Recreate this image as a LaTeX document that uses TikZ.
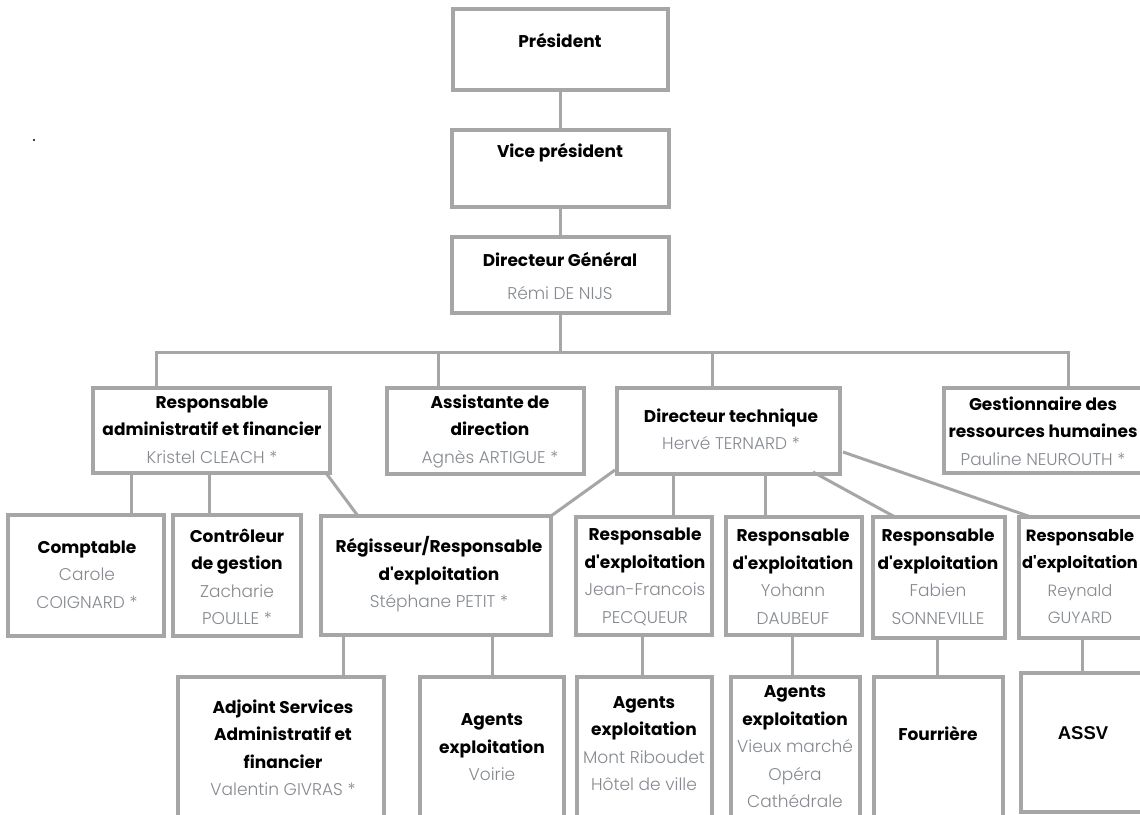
\documentclass[tikz,border=0pt]{standalone}
\usepackage{fontspec}
\setmainfont{Poppins}
\newfontfamily\namefont{Poppins Light}
\newfontfamily\arialfont{Liberation Sans}
\usetikzlibrary{calc}
\definecolor{bord}{HTML}{A6A6A6}
\definecolor{nmgrey}{HTML}{868A90}
\tikzset{
 box/.style={draw=bord, line width=3.5pt, inner sep=0pt, outer sep=0pt, anchor=north west},
 link/.style={draw=bord, line width=3pt},
 lbl/.style={align=center, inner sep=0pt, font=\fontsize{17}{27.5}\selectfont},
}
\newcommand\nm[1]{{\namefont\color{nmgrey}#1}}
\newcommand\ap{\textquotesingle}
\newcommand\orgbox[5]{\node[box, minimum width=#4-#2, minimum height=#5-#3] (#1) at (#2,#3) {};}
\begin{document}
\begin{tikzpicture}[x=1pt,y=-1pt]
\useasboundingbox (0,0) rectangle (1140,814);
\clip (0,0) rectangle (1140,814);
\fill[white] (0,0) rectangle (1140,814);
% boxes
\orgbox{pres}{453}{9}{668}{90}
\orgbox{vp}{452}{130}{669}{207}
\orgbox{dg}{452}{237}{669}{313}
\orgbox{raf}{93}{388}{330}{473}
\orgbox{asst}{387}{388}{584}{474}
\orgbox{dt}{617}{388}{840}{474}
\orgbox{grh}{944}{388}{1146}{473}
\orgbox{comp}{8}{515}{164}{636}
\orgbox{ctrl}{173}{515}{301}{636}
\orgbox{reg}{321}{516}{551}{635}
\orgbox{ra}{576}{517}{712}{635}
\orgbox{rb}{726}{517}{862}{635}
\orgbox{rc}{873}{517}{1005}{638}
\orgbox{rd}{1019}{517}{1146}{638}
\orgbox{adj}{178}{677}{384}{830}
\orgbox{agv}{420}{677}{564}{830}
\orgbox{agmr}{577}{677}{712}{830}
\orgbox{agvm}{731}{677}{860}{830}
\orgbox{four}{874}{677}{1003}{830}
\orgbox{assv}{1021}{673}{1146}{812}
% texts
\node[lbl] (tpres) at (560,40) {\textbf{Président}};
\node[lbl] (tvp) at (560,153) {\textbf{Vice président}};
\node[lbl] (tdg) at (560,276) {\textbf{Directeur Général}\\[5pt]\nm{Rémi DE NIJS}};
\node[lbl] (traf) at (212,429.5) {\textbf{Responsable}\\\textbf{administratif et financier}\\\nm{Kristel CLEACH *}};
\node[lbl] (tasst) at (490,431) {\textbf{Assistante de}\\\textbf{direction}\\\nm{Agnès ARTIGUE *}};
\node[lbl] (tdt) at (731,429.5) {\textbf{Directeur technique}\\\nm{Hervé TERNARD *}};
\node[lbl] (tgrh) at (1043,431) {\textbf{Gestionnaire des}\\\textbf{ressources humaines}\\\nm{Pauline NEUROUTH *}};
\node[lbl] (tcomp) at (87,574.5) {\textbf{Comptable}\\\nm{Carole}\\\nm{COIGNARD *}};
\node[lbl] (tctrl) at (237,576.75) {\textbf{Contrôleur}\\\textbf{de gestion}\\\nm{Zacharie}\\\nm{POULLE *}};
\node[lbl] (treg) at (439,574.5) {\textbf{Régisseur/Responsable}\\\textbf{d\ap exploitation}\\\nm{Stéphane PETIT *}};
\node[lbl] (tra) at (645,576.75) {\textbf{Responsable}\\\textbf{d\ap exploitation}\\\nm{Jean-Francois}\\\nm{PECQUEUR}};
\node[lbl] (trb) at (793,576.75) {\textbf{Responsable}\\\textbf{d\ap exploitation}\\\nm{Yohann}\\\nm{DAUBEUF}};
\node[lbl] (trc) at (938,576.75) {\textbf{Responsable}\\\textbf{d\ap exploitation}\\\nm{Fabien}\\\nm{SONNEVILLE}};
\node[lbl, font=\fontsize{16.3}{27.5}\selectfont] (trd) at (1080,576.75) {\textbf{Responsable}\\\textbf{d\ap exploitation}\\\nm{Reynald}\\\nm{GUYARD}};
\node[lbl] (tadj) at (283,747.5) {\textbf{Adjoint Services}\\\textbf{Administratif et}\\\textbf{financier}\\\nm{Valentin GIVRAS *}};
\node[lbl] (tagv) at (492,747.5) {\textbf{Agents}\\\textbf{exploitation}\\\nm{Voirie}};
\node[lbl] (tagmr) at (644,743.5) {\textbf{Agents}\\\textbf{exploitation}\\\nm{Mont Riboudet}\\\nm{Hôtel de ville}};
\node[lbl] (tagvm) at (795,747) {\textbf{Agents}\\\textbf{exploitation}\\\nm{Vieux marché}\\\nm{Opéra}\\\nm{Cathédrale}};
\node[lbl] (tfour) at (938,733) {\textbf{Fourrière}};
\node[lbl, font=\arialfont\bfseries\fontsize{18.5}{20}\selectfont] (tassv) at (1083,733) {ASSV};
% stray dot
\fill (34,140) circle (1.2);
% connectors
\coordinate (busL) at (156,352);
\coordinate (busR) at (1068,352);
\draw[link] (pres.south) -- (vp.north);
\draw[link] (vp.south) -- (dg.north);
\draw[link] (dg.south) -- (dg.south |- busL);
\draw[link] (raf.north -| busL) -- (busL) -- (busR) -- (grh.north -| busR);
\draw[link] (438,352) -- (asst.north -| 438,0);
\draw[link] (712,352) -- (dt.north -| 712,0);
\draw[link] (raf.south -| 131,0) -- (comp.north -| 131,0);
\draw[link] (raf.south -| 209,0) -- (ctrl.north -| 209,0);
\draw[link] (326,473) -- (reg.north -| 358,0);
\draw[link] (615,470) -- (reg.north east);
\draw[link] (dt.south -| 673,0) -- (ra.north -| 673,0);
\draw[link] (dt.south -| 765,0) -- (rb.north -| 765,0);
\draw[link] (813,472) -- (rc.north -| 895,0);
\draw[link] (843,452) -- (rd.north -| 1031,0);
\draw[link] (reg.south -| 343,0) -- (adj.north -| 343,0);
\draw[link] (reg.south -| 492,0) -- (agv.north -| 492,0);
\draw[link] (ra.south -| 642,0) -- (agmr.north -| 642,0);
\draw[link] (rb.south -| 792,0) -- (agvm.north -| 792,0);
\draw[link] (rc.south -| 937,0) -- (four.north -| 937,0);
\draw[link] (rd.south -| 1082,0) -- (assv.north -| 1082,0);
\end{tikzpicture}
\end{document}
